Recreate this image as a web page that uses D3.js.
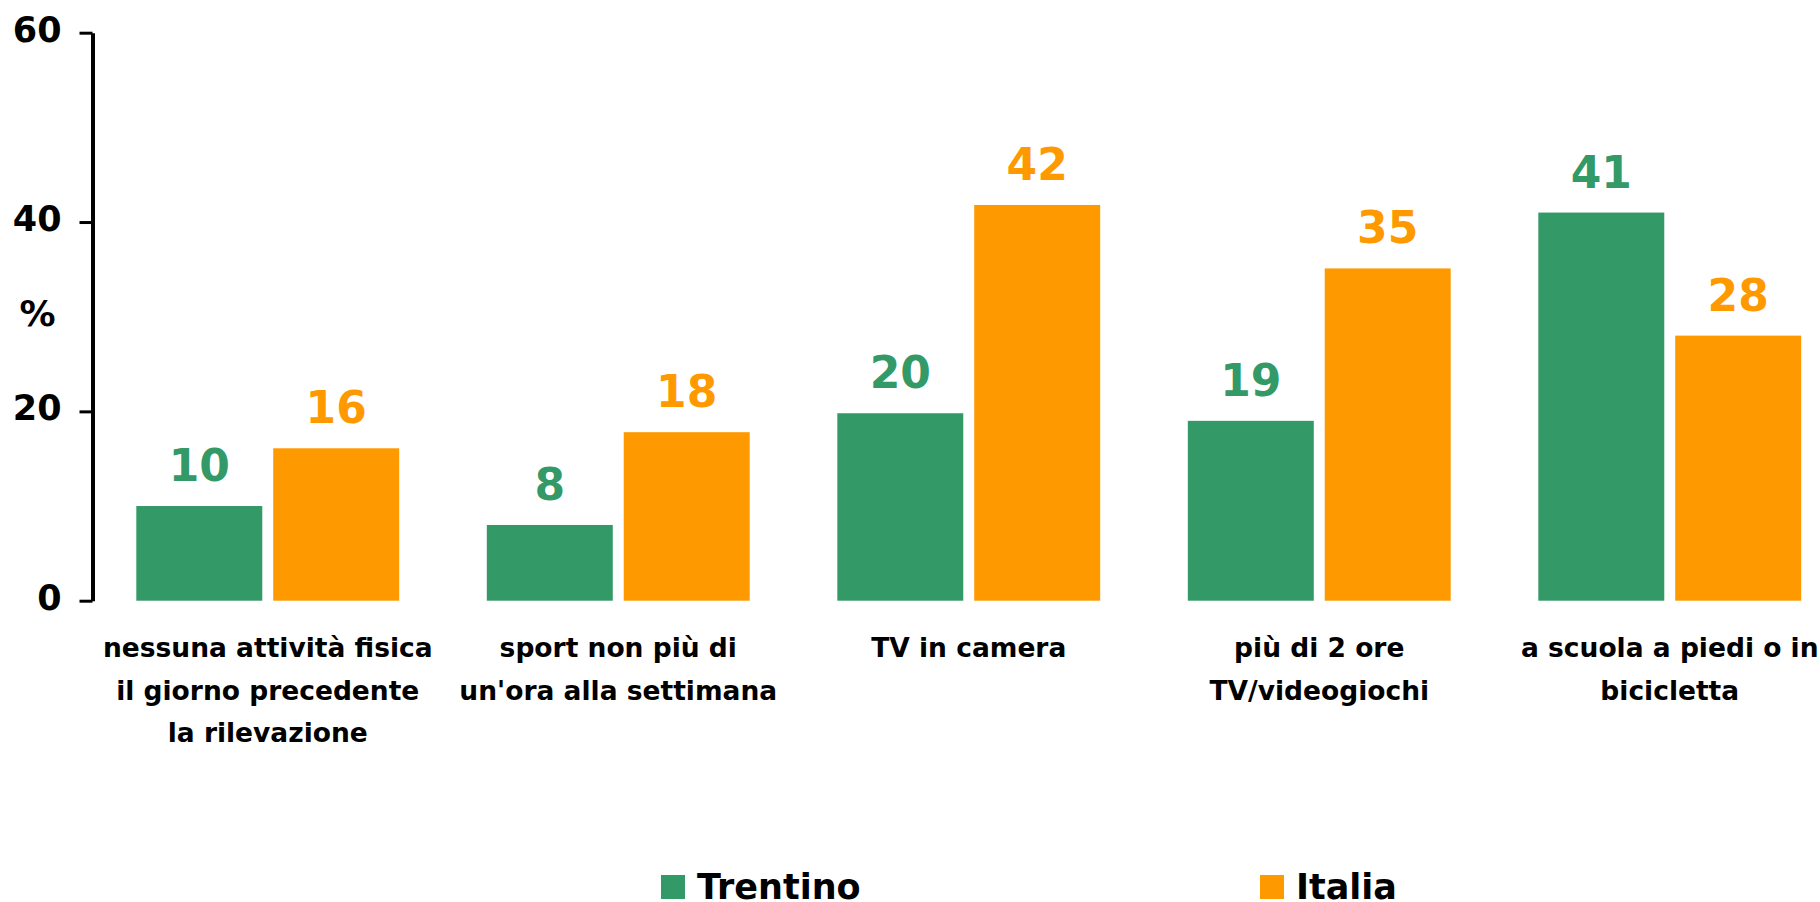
<!DOCTYPE html>
<html>
<head>
<meta charset="utf-8">
<script src="https://cdn.jsdelivr.net/npm/d3@7"></script>
<style>
  body { margin: 0; background: #fff; }
  svg { display: block; font-family: "DejaVu Sans", Verdana, sans-serif; font-weight: bold; }
</style>
</head>
<body>
<div id="chart"></div>
<script>
// data
const categories = [
  "nessuna attività fisica il giorno precedente la rilevazione",
  "sport non più di un'ora alla settimana",
  "TV in camera",
  "più di 2 ore TV/videogiochi",
  "a scuola a piedi o in bicicletta"
];
// how the category labels wrap under the bars
const categoryLines = [
  ["nessuna attività fisica", "il giorno precedente", "la rilevazione"],
  ["sport non più di", "un'ora alla settimana"],
  ["TV in camera"],
  ["più di 2 ore", "TV/videogiochi"],
  ["a scuola a piedi o in", "bicicletta"]
];
const seriesNames = ["Trentino", "Italia"];
const trentino = [10, 8, 19.8, 19, 41];
const italia = [16.1, 17.8, 41.8, 35.1, 28];
const yTicks = [0, 20, 40, 60];

const colors = { Trentino: "#339966", Italia: "#ff9900" };

const width = 1820;
const height = 902;

const svg = d3.select("#chart")
  .append("svg")
  .attr("width", width)
  .attr("height", height);

const y = d3.scaleLinear().domain([0, 60]).range([600.7, 32.7]);

const x0 = d3.scaleBand()
  .domain(categories)
  .range([92.5, 1845])
  .paddingInner(0.25)
  .paddingOuter(0.125);

const x1 = d3.scaleBand()
  .domain(seriesNames)
  .range([0, x0.bandwidth()])
  .paddingInner(0.08);

const rows = categories.map((c, i) => ({
  category: c,
  lines: categoryLines[i],
  values: [
    { series: "Trentino", value: trentino[i] },
    { series: "Italia", value: italia[i] }
  ]
}));

// y axis
const yAxis = svg.append("g")
  .attr("transform", "translate(92.5,0)")
  .call(d3.axisLeft(y).tickValues(yTicks).tickSize(13).tickSizeOuter(0).tickPadding(18));

yAxis.select(".domain").attr("stroke", "#000").attr("stroke-width", 4);
yAxis.selectAll(".tick line").attr("stroke", "#000").attr("stroke-width", 3);
yAxis.selectAll(".tick text")
  .attr("fill", "#000")
  .attr("dy", "0.24em")
  .style("font-size", "35px")
  .style("font-family", "'DejaVu Sans', Verdana, sans-serif")
  .style("font-weight", "bold");

svg.append("text")
  .attr("x", 37.5)
  .attr("y", 313)
  .attr("dy", "0.35em")
  .attr("text-anchor", "middle")
  .style("font-size", "36px")
  .text("%");

// bars
const group = svg.selectAll(".group")
  .data(rows)
  .join("g")
  .attr("class", "group")
  .attr("transform", d => `translate(${x0(d.category)},0)`);

group.selectAll("rect")
  .data(d => d.values)
  .join("rect")
  .attr("x", d => x1(d.series))
  .attr("y", d => y(d.value))
  .attr("width", x1.bandwidth())
  .attr("height", d => y(0) - y(d.value))
  .attr("fill", d => colors[d.series]);

group.selectAll(".value")
  .data(d => d.values)
  .join("text")
  .attr("class", "value")
  .attr("x", d => x1(d.series) + x1.bandwidth() / 2)
  .attr("y", d => y(d.value) - 25)
  .attr("text-anchor", "middle")
  .attr("fill", d => colors[d.series])
  .style("font-size", "44px")
  .text(d => d3.format(".0f")(d.value));

// category labels
const label = group.append("text")
  .attr("text-anchor", "middle")
  .attr("fill", "#000")
  .style("font-size", "26.5px");

label.selectAll("tspan")
  .data(d => d.lines)
  .join("tspan")
  .attr("x", x0.bandwidth() / 2)
  .attr("y", (d, i) => 657 + i * 42.5)
  .text(d => d);

// legend
const legendX = [661, 1260];
const legend = svg.selectAll(".legend")
  .data(seriesNames)
  .join("g")
  .attr("class", "legend")
  .attr("transform", (d, i) => `translate(${legendX[i]},875)`);

legend.append("rect")
  .attr("width", 24)
  .attr("height", 24)
  .attr("fill", d => colors[d]);

legend.append("text")
  .attr("x", 36)
  .attr("y", 24)
  .attr("fill", "#000")
  .style("font-size", "35px")
  .text(d => d);
</script>
</body>
</html>
